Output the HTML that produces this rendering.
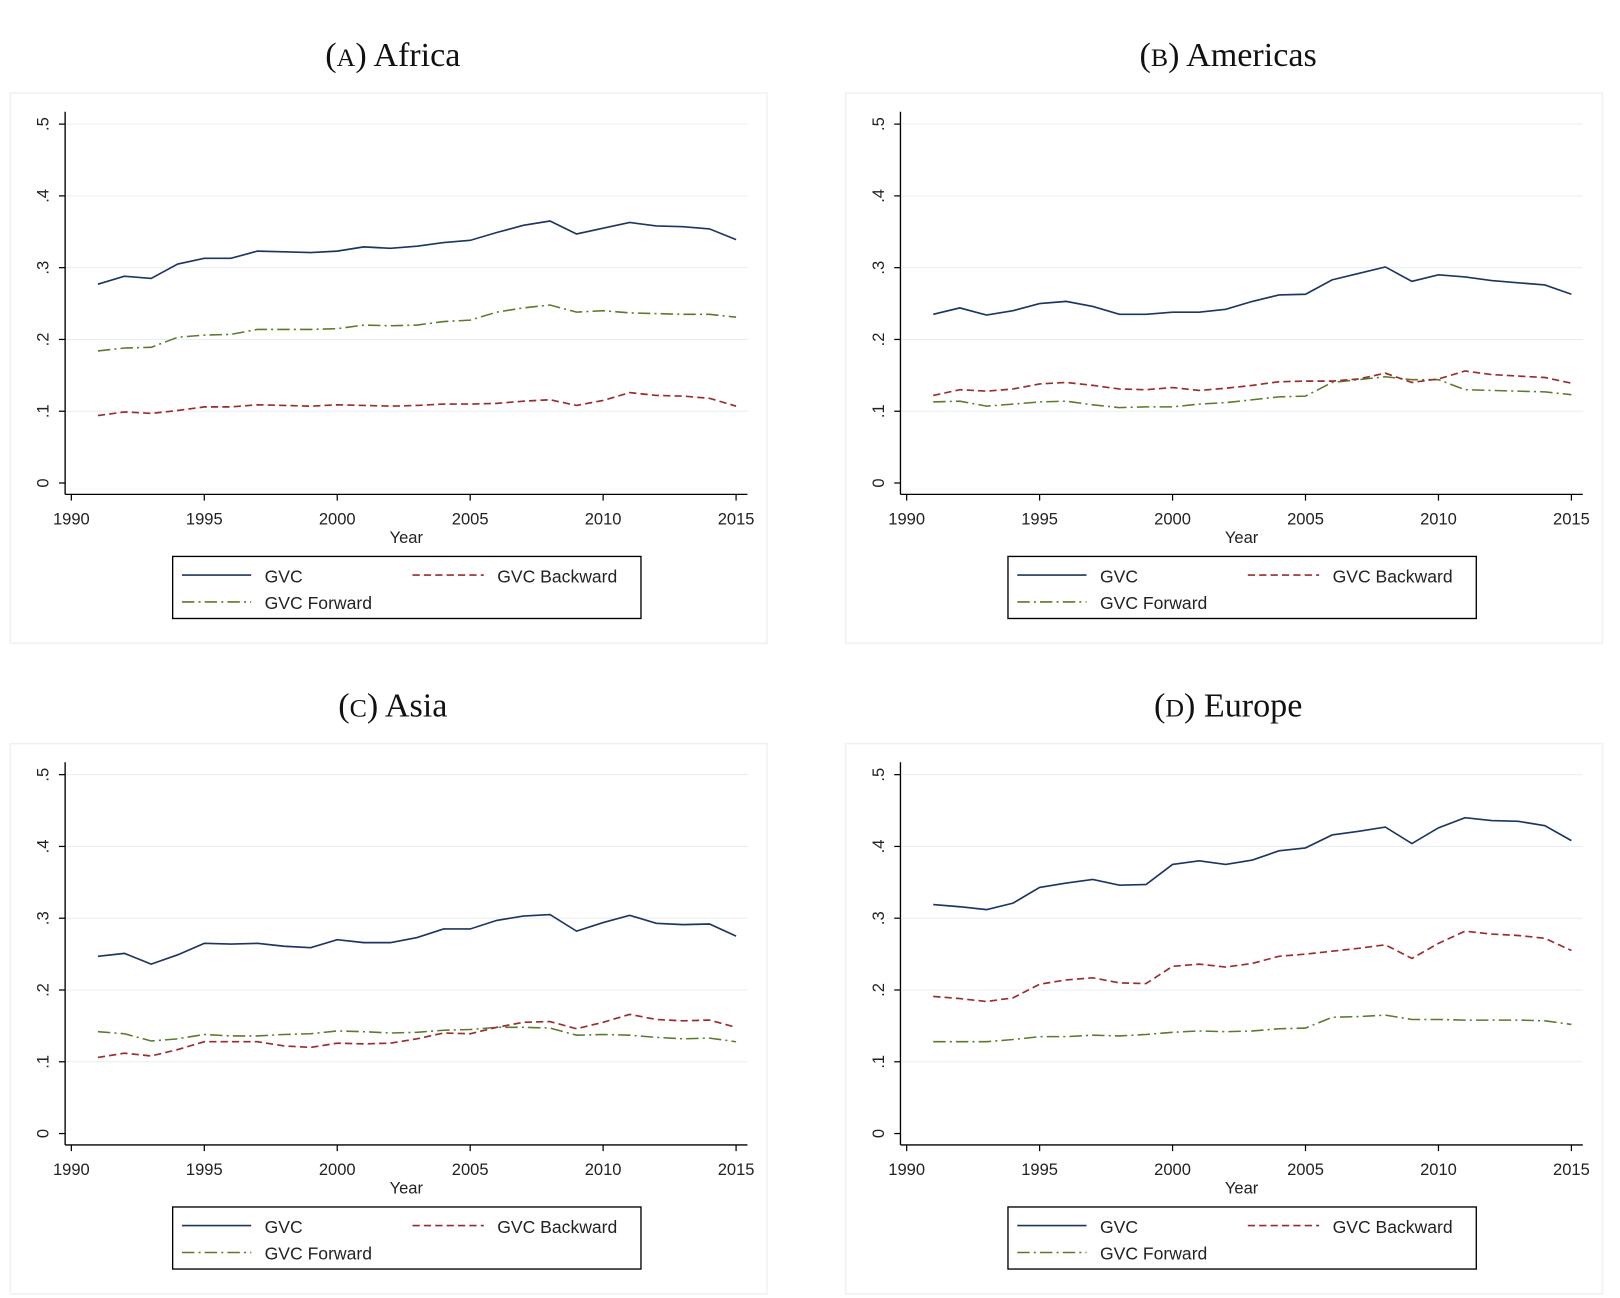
<!DOCTYPE html>
<html><head><meta charset="utf-8">
<style>
html,body{margin:0;padding:0;background:#fff;}
svg{display:block;}
text{font-family:"Liberation Sans",Arial,sans-serif;fill:#222;}
.t{font-family:"Liberation Serif","DejaVu Serif",serif;fill:#111;}
</style></head>
<body>
<svg id="s" width="1620" height="1298" viewBox="0 0 1567 1255" preserveAspectRatio="none" xmlns="http://www.w3.org/2000/svg"></svg>
<script>
const S=document.getElementById('s');
const NS='http://www.w3.org/2000/svg';
function el(t,a,txt){const e=document.createElementNS(NS,t);for(const k in a)e.setAttribute(k,a[k]);if(txt!==undefined)e.textContent=txt;S.appendChild(e);return e;}
const D={
A:{title:["(","A",") Africa"],
g:[.277,.288,.285,.305,.313,.313,.323,.322,.321,.323,.329,.327,.330,.335,.338,.349,.359,.365,.347,.355,.363,.358,.357,.354,.339],
b:[.094,.099,.097,.101,.106,.106,.109,.108,.107,.109,.108,.107,.108,.110,.110,.111,.114,.116,.108,.115,.126,.122,.121,.118,.107],
f:[.184,.188,.189,.203,.206,.207,.214,.214,.214,.215,.220,.219,.220,.225,.227,.238,.244,.248,.238,.240,.237,.236,.235,.235,.231]},
B:{title:["(","B",") Americas"],
g:[.235,.244,.234,.240,.250,.253,.246,.235,.235,.238,.238,.242,.253,.262,.263,.283,.292,.301,.281,.290,.287,.282,.279,.276,.263],
b:[.122,.130,.128,.131,.138,.140,.136,.131,.130,.133,.129,.132,.136,.141,.142,.142,.145,.153,.140,.145,.156,.151,.149,.147,.139],
f:[.113,.114,.107,.110,.113,.114,.109,.105,.106,.106,.110,.112,.116,.120,.121,.140,.144,.148,.144,.144,.130,.129,.128,.127,.123]},
C:{title:["(","C",") Asia"],
g:[.247,.251,.236,.249,.265,.264,.265,.261,.259,.270,.266,.266,.273,.285,.285,.297,.303,.305,.282,.294,.304,.293,.291,.292,.275],
b:[.106,.112,.108,.117,.128,.128,.128,.122,.120,.126,.125,.126,.132,.140,.139,.148,.155,.156,.146,.155,.166,.159,.157,.158,.148],
f:[.142,.139,.129,.132,.138,.136,.136,.138,.139,.143,.142,.140,.141,.144,.145,.148,.148,.147,.137,.138,.137,.134,.132,.133,.128]},
D:{title:["(","D",") Europe"],
g:[.319,.316,.312,.321,.343,.349,.354,.346,.347,.375,.380,.375,.381,.394,.398,.416,.421,.427,.404,.426,.440,.436,.435,.429,.408],
b:[.191,.188,.184,.189,.208,.214,.217,.210,.209,.233,.236,.232,.237,.247,.250,.254,.258,.263,.244,.265,.282,.278,.276,.272,.255],
f:[.128,.128,.128,.131,.135,.135,.137,.136,.138,.141,.143,.142,.143,.146,.147,.162,.163,.165,.159,.159,.158,.158,.158,.157,.152]}};
const pos={A:[0,0],B:[808,0],C:[0,629],D:[808,629]};
const CG='#1d3563',CB='#9b2c2c',CF='#5b7a2c';
for(const k in D){
 const [ox,oy]=pos[k],d=D[k];
 const X=y=>ox+69+(y-1990)*25.72, Y=v=>oy+467-v*694;
 el('rect',{x:ox+10,y:oy+90,width:732,height:532,fill:'none',stroke:'#eef2f5','stroke-width':1.5});
 const t=el('text',{x:ox+380,y:oy+64,'text-anchor':'middle','font-size':33,class:'t'});
 t.innerHTML=d.title[0]+'<tspan font-size="25">'+d.title[1]+'</tspan>'+d.title[2];
 for(let i=1;i<=5;i++)el('line',{x1:ox+63,x2:ox+723,y1:Y(i/10),y2:Y(i/10),stroke:'#eaeef2','stroke-width':1});
 el('line',{x1:ox+63,x2:ox+63,y1:oy+108,y2:oy+478,stroke:'#000','stroke-width':1.3});
 el('line',{x1:ox+63,x2:ox+723,y1:oy+478,y2:oy+478,stroke:'#000','stroke-width':1.3});
 for(let i=0;i<=5;i++){const yy=Y(i/10);el('line',{x1:ox+57,x2:ox+63,y1:yy,y2:yy,stroke:'#000','stroke-width':1.2});
  el('text',{x:ox+47,y:yy,'font-size':16,'text-anchor':'middle',transform:`rotate(-90 ${ox+47} ${yy})`},i?'.'+i:'0');}
 for(let y=1990;y<=2015;y+=5){const xx=X(y);el('line',{x1:xx,x2:xx,y1:oy+478,y2:oy+484,stroke:'#000','stroke-width':1.2});
  el('text',{x:xx,y:oy+507,'font-size':16,'text-anchor':'middle'},y);}
 el('text',{x:ox+393,y:oy+525,'font-size':16,'text-anchor':'middle'},'Year');
 const P=a=>a.map((v,i)=>X(1991+i).toFixed(1)+','+Y(v).toFixed(1)).join(' ');
 el('polyline',{points:P(d.f),fill:'none',stroke:CF,'stroke-width':1.5,'stroke-dasharray':'12,4,2,4'});
 el('polyline',{points:P(d.b),fill:'none',stroke:CB,'stroke-width':1.6,'stroke-dasharray':'7,4'});
 el('polyline',{points:P(d.g),fill:'none',stroke:CG,'stroke-width':1.6});
 el('rect',{x:ox+167,y:oy+538,width:453,height:60,fill:'#fff',stroke:'#000','stroke-width':1.3});
 el('line',{x1:ox+176,x2:ox+243,y1:oy+556,y2:oy+556,stroke:CG,'stroke-width':1.6});
 el('text',{x:ox+256,y:oy+563,'font-size':17},'GVC');
 el('line',{x1:ox+399,x2:ox+468,y1:oy+556,y2:oy+556,stroke:CB,'stroke-width':1.6,'stroke-dasharray':'7,4'});
 el('text',{x:ox+481,y:oy+563,'font-size':17},'GVC Backward');
 el('line',{x1:ox+176,x2:ox+243,y1:oy+582,y2:oy+582,stroke:CF,'stroke-width':1.5,'stroke-dasharray':'12,4,2,4'});
 el('text',{x:ox+256,y:oy+589,'font-size':17},'GVC Forward');
}
</script>
</body></html>
